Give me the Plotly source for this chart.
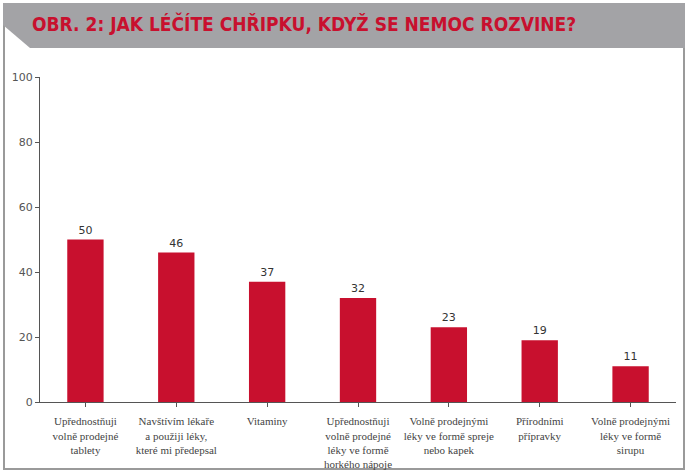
import plotly.graph_objects as go

categories = [
    "Upřednostňuji<br>volně prodejné<br>tablety",
    "Navštívím lékaře<br>a použiji léky,<br>které mi předepsal",
    "Vitaminy",
    "Upřednostňuji<br>volně prodejné<br>léky ve formě<br>horkého nápoje",
    "Volně prodejnými<br>léky ve formě spreje<br>nebo kapek",
    "Přírodními<br>přípravky",
    "Volně prodejnými<br>léky ve formě<br>sirupu",
]
values = [50, 46, 37, 32, 23, 19, 11]
y_ticks = [0, 20, 40, 60, 80, 100]
title_text = "OBR. 2: JAK LÉČÍTE CHŘIPKU, KDYŽ SE NEMOC ROZVINE?"

W, H = 688, 471
ML, MR, MT, MB = 40, 12, 77, 69
PW, PH = W - ML - MR, H - MT - MB


def px(x):
    return (x - ML) / PW


def py(y):
    return (H - MB - y) / PH


fig = go.Figure(
    go.Bar(
        x=list(range(len(categories))),
        y=values,
        marker=dict(color="#c8102e", line=dict(width=0)),
        text=[str(v) for v in values],
        textposition="outside",
        textfont=dict(family="DejaVu Sans", size=11, color="#333333"),
        cliponaxis=False,
        width=0.4,
    )
)

banner = "M {} {} L {} {} L {} {} L {} {} L {} {} Z".format(
    px(3), py(3), px(685), py(3), px(685), py(48), px(30), py(48), px(3), py(25)
)
frame = "M {} {} L {} {} L {} {} L {} {}".format(
    px(4), py(25), px(4), py(469), px(684), py(469), px(684), py(48)
)

fig.update_layout(
    width=W,
    height=H,
    margin=dict(l=ML, r=MR, t=MT, b=MB, autoexpand=False),
    paper_bgcolor="white",
    plot_bgcolor="white",
    showlegend=False,
    shapes=[
        dict(type="path", path=frame, xref="paper", yref="paper",
             line=dict(color="#9a9a9a", width=2), layer="below"),
        dict(type="path", path=banner, xref="paper", yref="paper",
             fillcolor="#a3a3a6", line=dict(width=0), layer="below"),
    ],
    annotations=[
        dict(text="<b>" + title_text + "</b>", xref="paper", yref="paper",
             x=px(30), y=py(24), xanchor="left", yanchor="middle", showarrow=False,
             font=dict(family="DejaVu Sans Condensed, Liberation Sans Narrow, sans-serif",
                       size=19, color="#c8102e")),
    ],
    xaxis=dict(
        tickmode="array",
        tickvals=list(range(len(categories))),
        ticktext=categories,
        range=[-0.5, len(categories) - 0.5],
        tickson="boundaries",
        ticks="outside",
        ticklen=4,
        tickcolor="#555555",
        showline=True,
        linecolor="#555555",
        linewidth=1,
        showgrid=False,
        zeroline=False,
        automargin=False,
        ticklabelstandoff=5,
        tickfont=dict(family="Liberation Serif", size=11, color="#444444"),
        tickangle=0,
    ),
    yaxis=dict(
        range=[0, 100],
        tickvals=y_ticks,
        ticks="outside",
        ticklen=4,
        tickcolor="#555555",
        showline=True,
        linecolor="#555555",
        linewidth=1,
        showgrid=False,
        zeroline=False,
        automargin=False,
        tickfont=dict(family="DejaVu Sans", size=11, color="#555555"),
    ),
)

fig.write_html("out.html")
